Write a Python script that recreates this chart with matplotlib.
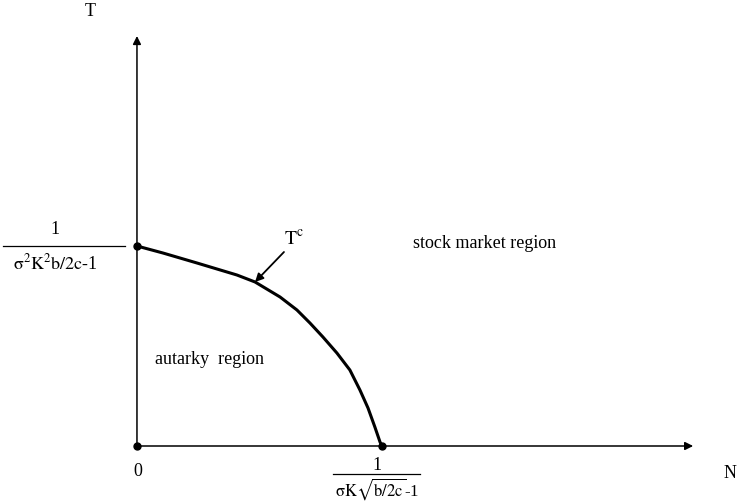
import matplotlib
matplotlib.use("Agg")
import matplotlib.pyplot as plt

plt.rcParams['font.family'] = ['Liberation Serif', 'DejaVu Serif']
plt.rcParams['mathtext.fontset'] = 'stix'

# threshold curve T^c (N scaled so the N-intercept is 1,
# T scaled so the T-intercept is 1)
curve_n = [0.0, 0.106, 0.245, 0.408, 0.482, 0.584, 0.653, 0.706, 0.759, 0.816,
           0.869, 0.910, 0.943, 0.971, 0.992, 1.0]
curve_t = [1.0, 0.965, 0.915, 0.855, 0.82, 0.745, 0.68, 0.615, 0.545, 0.465,
           0.38, 0.28, 0.19, 0.095, 0.02, 0.0]

# marked points: T intercept, origin, N intercept
dot_n = [0.0, 0.0, 1.0]
dot_t = [1.0, 0.0, 0.0]

fig = plt.figure(figsize=(7.37, 5.04), dpi=100)
ax = fig.add_axes([0, 0, 1, 1])
ax.set_xlim(-0.559, 2.449)
ax.set_ylim(-0.29, 2.23)
ax.axis('off')

# axes with arrow heads
arrow = dict(arrowstyle='-|>', color='black', lw=1.1, mutation_scale=12, shrinkA=0, shrinkB=0)
ax.annotate('', xy=(2.27, 0), xytext=(0, 0), arrowprops=arrow)
ax.annotate('', xy=(0, 2.05), xytext=(0, 0), arrowprops=arrow)

ax.plot(curve_n, curve_t, color='black', lw=2.2, solid_capstyle='round', solid_joinstyle='round')
ax.plot(dot_n, dot_t, 'o', color='black', ms=5)

# T^c pointer
ax.annotate('', xy=(0.482, 0.82), xytext=(0.60, 0.97),
            arrowprops=dict(arrowstyle='-|>', color='black', lw=1.3, mutation_scale=12,
                            shrinkA=0, shrinkB=0))
ax.text(0.60, 0.99, r'$\mathrm{T}^{\mathrm{c}}$', fontsize=14, ha='left', va='bottom')

ax.text(1.127, 1.01, 'stock market region', fontsize=13, ha='left', va='center')
ax.text(0.073, 0.43, 'autarky  region', fontsize=13, ha='left', va='center')

# axis names
ax.text(-0.19, 2.17, 'T', fontsize=13, ha='center', va='center')
ax.text(2.42, -0.135, 'N', fontsize=13, ha='center', va='center')
ax.text(0.004, -0.13, '0', fontsize=13, ha='center', va='center')

# T-intercept label
ax.text(-0.335, 1.085, '1', fontsize=13, ha='center', va='center')
ax.plot([-0.547, -0.05], [1.0, 1.0], color='black', lw=0.9)
ax.text(-0.335, 0.915, r'$\mathrm{\sigma}^2\mathrm{K}^2\mathrm{b/2c}$-1', fontsize=13,
        ha='center', va='center')

# N-intercept label
ax.text(0.98, -0.095, '1', fontsize=13, ha='center', va='center')
ax.plot([0.80, 1.155], [-0.14, -0.14], color='black', lw=0.9)
ax.text(0.98, -0.215, r'$\mathrm{\sigma K}\sqrt{\mathrm{b/2c}}$-1', fontsize=12, ha='center', va='center')

fig.savefig('out.png', dpi=100)
